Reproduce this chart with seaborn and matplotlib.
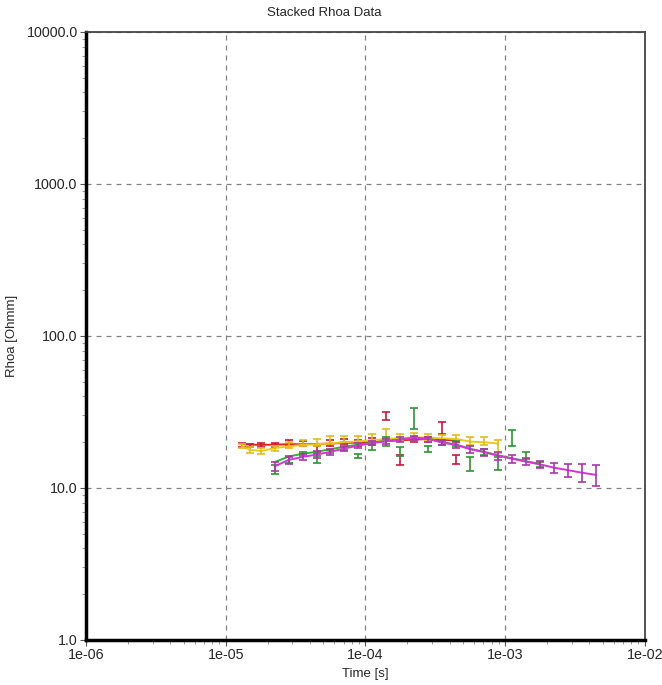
import matplotlib
matplotlib.use("Agg")
import matplotlib.pyplot as plt
import matplotlib.ticker as mticker
import seaborn as sns
import pandas as pd

# ---------------- data ----------------
# red series (line + error bars)
red_t = [1.3e-5, 1.5e-5, 1.8e-5, 2.24e-5, 2.82e-5, 3.55e-5, 4.47e-5, 5.62e-5, 7.08e-5,
         8.91e-5, 1.12e-4, 1.41e-4, 1.78e-4, 2.24e-4, 2.82e-4, 3.55e-4, 4.47e-4]
red_line = [19.4, 19.3, 19.2, 19.3, 19.4, 19.4, 19.5, 19.6, 19.8, 19.9, 20.1, 20.3,
            20.6, 20.8, 21.0, 20.8, 20.5]
red_bar = [19.3, 19.0, 19.2, 19.2, 19.8, 19.6, 18.0, 19.8, 20.2, 19.8, 20.5, 29.8,
           15.3, 21.0, 21.0, 25.0, 15.4]
red_err = [0.6, 0.5, 0.5, 0.6, 0.9, 0.8, 1.0, 0.8, 0.8, 0.8, 0.8, 2.0,
           1.1, 0.8, 0.8, 2.2, 1.0]

# yellow series
yel_t = [1.3e-5, 1.5e-5, 1.8e-5, 2.24e-5, 2.82e-5, 3.55e-5, 4.47e-5, 5.62e-5, 7.08e-5,
         8.91e-5, 1.12e-4, 1.41e-4, 1.78e-4, 2.24e-4, 2.82e-4, 3.55e-4, 4.47e-4,
         5.62e-4, 7.08e-4, 8.91e-4]
yel_line = [18.8, 17.8, 17.5, 18.3, 18.8, 19.2, 19.4, 19.7, 20.0, 20.3, 20.6, 21.0,
            21.3, 21.5, 21.5, 21.2, 21.0, 20.2, 20.0, 19.6]
yel_bar = [18.8, 17.8, 17.5, 18.3, 19.3, 19.8, 20.0, 20.8, 21.0, 21.0, 21.5, 23.0,
           21.5, 21.7, 21.5, 21.2, 21.0, 20.5, 20.5, 18.9]
yel_err = [0.6, 0.7, 0.7, 0.7, 0.9, 1.0, 1.0, 1.2, 1.0, 1.1, 1.2, 1.6,
           1.2, 1.4, 1.0, 1.0, 1.2, 1.2, 1.2, 1.8]

# green series
grn_t = [2.24e-5, 2.82e-5, 3.55e-5, 4.47e-5, 5.62e-5, 7.08e-5, 8.91e-5, 1.12e-4,
         1.41e-4, 1.78e-4, 2.24e-4, 2.82e-4, 3.55e-4, 4.47e-4, 5.62e-4, 7.08e-4,
         8.91e-4, 1.12e-3, 1.41e-3, 1.78e-3]
grn_line = [14.8, 16.1, 16.8, 17.3, 18.0, 18.7, 19.3, 19.9, 20.4, 20.9, 21.4, 21.1,
            20.0, 19.3, 18.1, 17.3, 16.4, 15.7, 15.0, 14.4]
grn_bar = [13.2, 15.3, 16.8, 15.4, 17.4, 18.2, 16.3, 18.5, 20.3, 17.5, 29.0, 18.1,
           19.8, 19.6, 14.5, 17.2, 14.6, 21.5, 16.3, 14.3]
grn_err = [0.9, 0.7, 0.5, 0.9, 0.5, 0.5, 0.5, 0.6, 1.3, 1.2, 4.5, 0.8,
           0.6, 0.7, 1.5, 0.8, 1.5, 2.7, 0.9, 0.6]

# magenta series
mag_t = [2.24e-5, 2.82e-5, 3.55e-5, 4.47e-5, 5.62e-5, 7.08e-5, 8.91e-5, 1.12e-4,
         1.41e-4, 1.78e-4, 2.24e-4, 2.82e-4, 3.55e-4, 4.47e-4, 5.62e-4, 7.08e-4,
         8.91e-4, 1.12e-3, 1.41e-3, 1.78e-3, 2.24e-3, 2.82e-3, 3.55e-3, 4.47e-3]
mag_line = [13.9, 15.3, 16.0, 16.6, 17.3, 18.2, 19.0, 19.8, 20.3, 20.8, 21.3, 21.0,
            19.9, 19.2, 18.0, 17.2, 16.3, 15.6, 14.9, 14.3, 13.6, 13.1, 12.6, 12.2]
mag_err = [1.0, 0.9, 0.8, 0.8, 0.8, 0.8, 0.7, 0.7, 0.7, 0.7, 0.8, 0.8,
           0.8, 0.8, 0.9, 0.9, 1.0, 0.9, 0.8, 0.8, 1.0, 1.2, 1.7, 1.9]

x_ticks = [1e-6, 1e-5, 1e-4, 1e-3, 1e-2]
y_ticks = [1, 10, 100, 1000, 10000]

# ---------------- styling ----------------
sns.set_style("white")
plt.rcParams["font.family"] = ["Liberation Sans", "DejaVu Sans"]

fig = plt.figure(figsize=(6.62, 6.85), dpi=100)
ax = fig.add_axes([0.13, 0.0657, 0.844, 0.8876])

series = [
    (red_t, red_line, red_bar, red_err, "#e3241c", "#c01e3c"),
    (yel_t, yel_line, yel_bar, yel_err, "#ecca1c", "#e0bb22"),
    (grn_t, grn_line, grn_bar, grn_err, "#3aaa3a", "#2f9436"),
    (mag_t, mag_line, mag_line, mag_err, "#d634d6", "#a43aa4"),
]

for t, line, bar, err, lc, ec in series:
    df = pd.DataFrame({"t": t, "rho": line})
    sns.lineplot(data=df, x="t", y="rho", color=lc, linewidth=1.4,
                 estimator=None, sort=False, ax=ax)
    ax.errorbar(t, bar, yerr=err, fmt="none", ecolor=ec, elinewidth=1.2,
                capsize=3, capthick=1.2)

ax.set_xscale("log")
ax.set_yscale("log")
ax.set_xlim(1e-6, 1e-2)
ax.set_ylim(1, 1e4)
ax.set_xticks(x_ticks)
ax.set_yticks(y_ticks)
ax.xaxis.set_major_formatter(mticker.FuncFormatter(lambda v, p: f"{v:.0e}"))
ax.yaxis.set_major_formatter(mticker.FuncFormatter(lambda v, p: f"{v:.1f}"))
ax.xaxis.set_minor_formatter(mticker.NullFormatter())
ax.yaxis.set_minor_formatter(mticker.NullFormatter())

ax.grid(which="major", linestyle=(0, (4, 4)), color="#808080", linewidth=0.9)
ax.grid(which="minor", visible=False)

ax.tick_params(which="major", direction="out", length=4, width=0.8,
               labelsize=10.3, color="#555555", bottom=True, left=True, pad=2)
ax.tick_params(which="minor", direction="out", length=3, width=0.6,
               color="#888888", bottom=True, left=True)

for s in ["left", "bottom"]:
    ax.spines[s].set_linewidth(2.5)
    ax.spines[s].set_color("black")
for s in ["top", "right"]:
    ax.spines[s].set_linewidth(1.3)
    ax.spines[s].set_color("#444444")

ax.set_xlabel("")
ax.set_ylabel("")
fig.text(0.49, 1 - 13 / 685, "Stacked Rhoa Data", ha="center", va="center", fontsize=9.5)
fig.text(365 / 662, 1 - 674 / 685, "Time [s]", ha="center", va="center", fontsize=9.5)
fig.text(12 / 662, 1 - 336 / 685, "Rhoa [Ohmm]", ha="center", va="center",
         rotation=90, fontsize=9.5)

fig.savefig("out.png", dpi=100)
